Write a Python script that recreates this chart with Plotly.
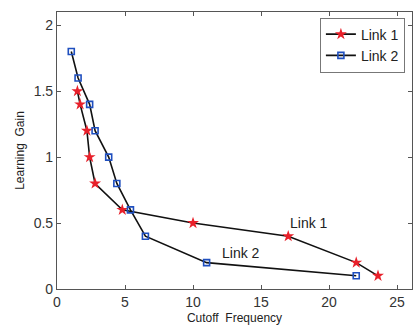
import plotly.graph_objects as go

link1_x = [1.5, 1.7, 2.2, 2.4, 2.8, 4.8, 10.0, 17.0, 22.0, 23.6]
link1_y = [1.5, 1.4, 1.2, 1.0, 0.8, 0.6, 0.5, 0.4, 0.2, 0.1]
link2_x = [1.05, 1.55, 2.4, 2.8, 3.8, 4.4, 5.4, 6.5, 11.0, 22.0]
link2_y = [1.8, 1.6, 1.4, 1.2, 1.0, 0.8, 0.6, 0.4, 0.2, 0.1]
x_ticks = [0, 5, 10, 15, 20, 25]
y_ticks = [0, 0.5, 1, 1.5, 2]

font = "Liberation Sans, Arial, sans-serif"
fig = go.Figure()
fig.add_trace(go.Scatter(x=link1_x, y=link1_y, mode="lines+markers", name="Link 1",
                         line=dict(color="#111", width=1.6),
                         marker=dict(symbol="star", size=9, color="#e8202a",
                                     line=dict(width=0))))
fig.add_trace(go.Scatter(x=link2_x, y=link2_y, mode="lines+markers", name="Link 2",
                         line=dict(color="#111", width=1.6),
                         marker=dict(symbol="square-open", size=6, color="#1f4fbf",
                                     line=dict(width=1.6))))
fig.add_annotation(x=17.0, y=0.5, text="Link 1", showarrow=False, xanchor="left",
                   font=dict(size=14, color="#222", family=font))
fig.add_annotation(x=12.0, y=0.27, text="Link 2", showarrow=False, xanchor="left",
                   font=dict(size=14, color="#222", family=font))

axis_common = dict(showline=True, mirror="ticks", linecolor="#555", linewidth=1.2,
                   ticks="inside", ticklen=4, tickcolor="#555", showgrid=False,
                   zeroline=False, automargin=False,
                   tickfont=dict(size=14, color="#333", family=font))
fig.update_xaxes(range=[0, 26.1], tickvals=x_ticks, ticktext=[str(v) for v in x_ticks],
                 title=dict(text="Cutoff  Frequency", font=dict(size=12, color="#222", family=font),
                            standoff=4), **axis_common)
fig.update_yaxes(range=[0, 2.1], tickvals=y_ticks, ticktext=["0", "0.5", "1", "1.5", "2"],
                 title=dict(text="Learning  Gain", font=dict(size=12, color="#222", family=font),
                            standoff=6), **axis_common)
fig.update_layout(width=413, height=329, margin=dict(l=57, r=1, t=12, b=40),
                  paper_bgcolor="white", plot_bgcolor="white",
                  legend=dict(x=0.98, y=0.98, xanchor="right", yanchor="top",
                              bgcolor="white", bordercolor="#777", borderwidth=1,
                              font=dict(size=14, color="#222", family=font),
                              tracegroupgap=0, itemwidth=30),
                  showlegend=True)
fig.write_html("out.html", config={"displayModeBar": False},
               post_script="document.body.style.margin='0';document.body.style.overflow='hidden';")
